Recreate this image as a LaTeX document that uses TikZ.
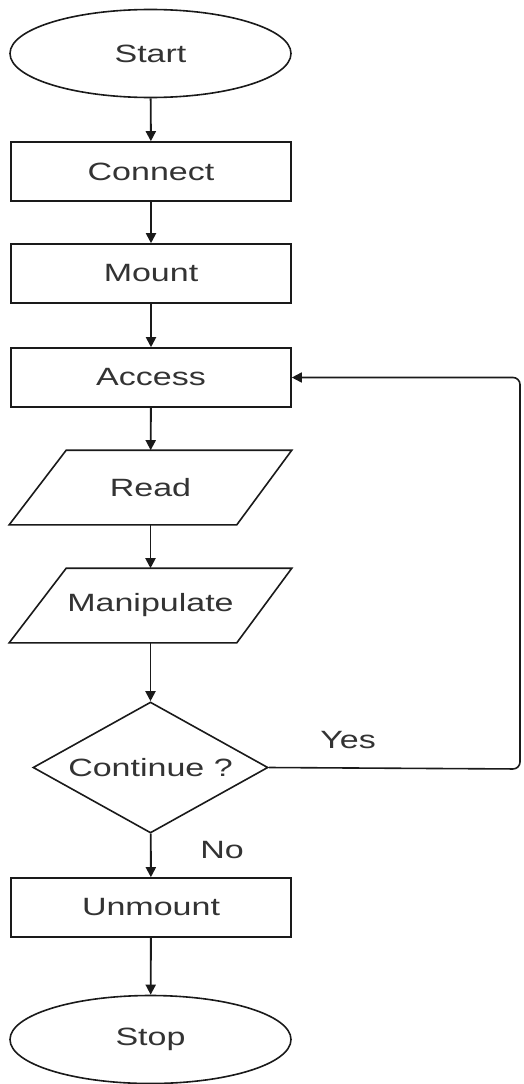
\documentclass[tikz,border=0pt]{standalone}
\usepackage{fontspec}
\usepackage{graphicx}
\setmainfont{Liberation Sans}
\usetikzlibrary{shapes.geometric,arrows.meta}
\newcommand{\lbl}[1]{\scalebox{1.36}[1]{#1}}
\definecolor{txtgray}{HTML}{333333}
\definecolor{linegray}{HTML}{1A1A1A}
\tikzset{
  base/.style={draw=linegray, line width=1.6pt, inner sep=0pt, text=txtgray, font=\fontsize{25}{30}\selectfont},
  term/.style={base, ellipse, minimum width=281pt, minimum height=88pt},
  proc/.style={base, rectangle, minimum width=280pt, minimum height=59pt},
  iobox/.style={base, draw=none, rectangle, minimum width=281pt, minimum height=73pt},
  decide/.style={base, diamond, minimum width=235pt, minimum height=131pt},
  conn/.style={draw=linegray, line width=1.9pt, -{Triangle[length=10pt,width=10pt]}},
  edgelbl/.style={text=txtgray, font=\fontsize{25}{30}\selectfont, inner sep=0pt}
}
\begin{document}
\begin{tikzpicture}[x=1pt,y=-1pt]
\useasboundingbox[fill=white] (0,0) rectangle (523,1084);
\node[term] (start) at (150.5,53.5) {\lbl{Start}};
\node[proc] (connect) at (151,171.5) {\lbl{Connect}};
\node[proc] (mount) at (151,273.5) {\lbl{Mount}};
\node[proc] (access) at (151,377.5) {\lbl{Access}};
\node[iobox] (read) at (150.5,487.5) {\lbl{Read}};
\draw[linegray, line width=1.6pt, line join=miter] (read.south west) -- ([xshift=-55pt]read.south east) -- (read.north east) -- ([xshift=57pt]read.north west) -- cycle;
\node[iobox] (manip) at (150.5,605.5) {\lbl{Manipulate}};
\draw[linegray, line width=1.6pt, line join=miter] (manip.south west) -- ([xshift=-55pt]manip.south east) -- (manip.north east) -- ([xshift=57pt]manip.north west) -- cycle;
\node[decide] (cont) at (150.5,767.5) {\makebox[0pt]{\lbl{Continue ?}}};
\node[proc] (unmount) at (151,907.5) {\lbl{Unmount}};
\node[term] (stop) at (150.5,1039.5) {\lbl{Stop}};
\coordinate (loopA) at (520,769);
\coordinate (loopB) at (520,377.5);
\draw[conn] (start) -- (connect);
\draw[conn] (connect) -- (mount);
\draw[conn] (mount) -- (access);
\draw[conn] (access) -- (read);
\draw[conn] (read) -- (manip);
\draw[conn] (manip) -- (cont);
\draw[conn] (cont) -- (unmount);
\draw[conn] (unmount) -- (stop);
\draw[conn, line width=1.6pt, rounded corners=7pt] (cont.east) -- (loopA) -- (loopB) -- (access.east);
\node[edgelbl] (yes) at (348,740) {\lbl{Yes}};
\node[edgelbl] (no) at (222,850) {\lbl{No}};
\end{tikzpicture}
\end{document}
